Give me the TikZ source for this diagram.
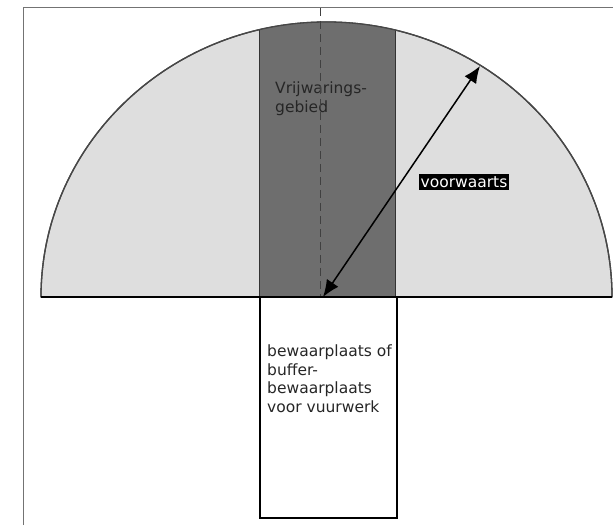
\documentclass[tikz,border=0pt]{standalone}
\usepackage{fontspec}
\setmainfont{DejaVu Sans}
\usetikzlibrary{arrows.meta, positioning}

\begin{document}
\begin{tikzpicture}[x=1pt, y=1pt,
		zone/.style={fill=black!13, draw=black!72, line width=1.3pt},
		band/.style={fill=black!57, draw=black!80, line width=1pt},
		txt/.style={align=left, text=black!85, inner sep=0pt, font=\fontsize{15.5}{18.5}\selectfont},
		reach/.style={<->, >={Latex[length=17pt, width=14pt]}, line width=1.5pt}]
		
		\useasboundingbox (0,0) rectangle (613,525);
		
		% frame
		\draw[black!55, line width=1pt] (23,0) -- (23,517) -- (613,517);
		
		% half circle with the band
		\draw[zone] (41,228) arc[start angle=180, end angle=0, x radius=285.5, y radius=275] -- cycle;
		\begin{scope}
			\clip (41,228) arc[start angle=180, end angle=0, x radius=285.5, y radius=275] -- cycle;
			\draw[band] (259,228) rectangle (395,530);
		\end{scope}
		\draw[black!72, line width=1.3pt] (41,228) arc[start angle=180, end angle=0, x radius=285.5, y radius=275];
		
		% store
		\node[draw, line width=1.5pt, minimum width=137pt, minimum height=220pt, anchor=north west] (store) at (259,228) {};
		\node[txt, anchor=north west] (storetext) at (267,180) {bewaarplaats of\\buffer-\\bewaarplaats\\voor vuurwerk};
		\node[txt, anchor=north west] (zonetext) at (275,443) {Vrijwarings-\\gebied};
		
		% base line and axis
		\coordinate (axistop) at (320,517);
		\coordinate (axisend) at (320,228);
		\draw[dash pattern=on 8pt off 5pt, black!75, line width=1pt] (axistop) -- (axisend);
		\draw[line width=2.8pt] (41,228) -- (612,228);
		
		% range
		\coordinate (origin) at (323,228);
		\coordinate (rim) at (480,459);
		\draw[reach] (origin) -- (rim);
		\node[fill=black, text=white, inner sep=2pt, font=\fontsize{15.5}{17}\selectfont] (fwd) at (464,343) {voorwaarts};
		
	\end{tikzpicture}
\end{document}
